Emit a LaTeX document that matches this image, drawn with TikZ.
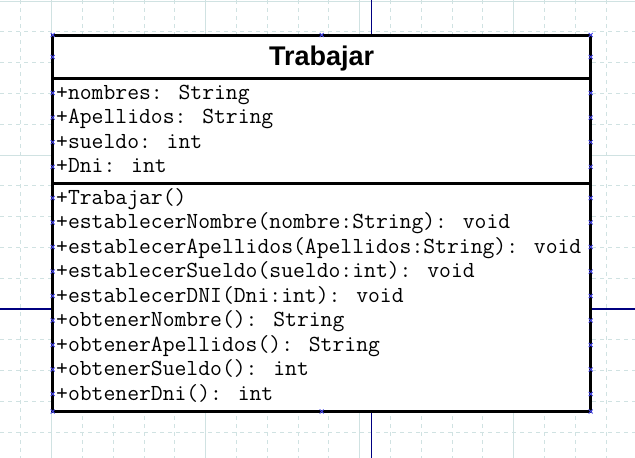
\documentclass[tikz,border=0pt]{standalone}
\usepackage{fontspec}
\setmainfont{Liberation Sans}
\usetikzlibrary{calc, positioning}

\definecolor{gridcol}{RGB}{208,226,226}
\definecolor{wirecol}{RGB}{0,0,128}
\definecolor{handlecol}{RGB}{70,70,235}

\tikzset{
  gridminor/.style={gridcol, line width=1pt, dash pattern=on 4pt off 4pt},
  gridmajor/.style={gridcol, line width=1pt},
  classline/.style={black, line width=3pt},
  wire/.style={wirecol, line width=1.2pt},
  handle/.style={handlecol, line width=0.8pt},
  member/.style={anchor=base west, inner sep=0pt, font=\ttfamily\fontsize{23}{26}\selectfont},
  classtitle/.style={anchor=base, inner sep=0pt, font=\bfseries\fontsize{27}{31}\selectfont},
}

\newcommand\handlemark[1]{%
  \draw[handle] ($(#1)+(-2,-2)$) -- ($(#1)+(2,2)$) ($(#1)+(-2,2)$) -- ($(#1)+(2,-2)$);}

\begin{document}
\begin{tikzpicture}[x=1pt, y=-1pt]
\useasboundingbox (0,0) rectangle (635,458);

% grid
\foreach \i in {0,...,19} {
  \pgfmathsetmacro\gx{20.8+30.8*\i}
  \pgfmathtruncatemacro\ismajor{mod(\i+4,5)==0}
  \ifnum\ismajor=1 \draw[gridmajor] (\gx,0) -- (\gx,458);
  \else \draw[gridminor] (\gx,0) -- (\gx,458); \fi
}
\foreach \j in {0,...,14} {
  \pgfmathsetmacro\gy{1+30.8*\j}
  \pgfmathtruncatemacro\ismajor{mod(\j,5)==0}
  \ifnum\ismajor=1 \draw[gridmajor] (0,\gy) -- (635,\gy);
  \else \draw[gridminor] (0,\gy) -- (635,\gy); \fi
}

% wires into the class
\coordinate (wiretop) at (371.5,0);
\coordinate (wirebot) at (371.5,458);
\coordinate (wireleft) at (0,309);
\coordinate (wireright) at (635,309);

\node[draw, line width=3pt, fill=white, inner sep=0pt, outer sep=0pt,
      minimum width=538pt, minimum height=376.5pt, anchor=north west] (cls) at (52.7,35) {};

\draw[wire] (wiretop) -- (wiretop |- cls.north);
\draw[wire] (wirebot) -- (wirebot |- cls.south);
\draw[wire] (wireleft) -- (wireleft -| cls.west);
\draw[wire] (wireright) -- (wireright -| cls.east);
\draw[classline] (cls.north west) rectangle (cls.south east);

% compartments
\draw[classline] (cls.west |- 0,78.3) -- (cls.east |- 0,78.3);
\draw[classline] (cls.west |- 0,183.3) -- (cls.east |- 0,183.3);

\node[classtitle] (title) at (cls.north |- 0,65) {Trabajar};

\foreach \txt [count=\k] in {{+nombres: String}, {+Apellidos: String},
    {+sueldo: int}, {+Dni: int}} {
  \node[member] (attr\k) at (56,{99+24.6*(\k-1)}) {\txt};
}
\foreach \txt [count=\k] in {{+Trabajar()},
    {+establecerNombre(nombre:String): void},
    {+establecerApellidos(Apellidos:String): void},
    {+establecerSueldo(sueldo:int): void},
    {+establecerDNI(Dni:int): void},
    {+obtenerNombre(): String},
    {+obtenerApellidos(): String},
    {+obtenerSueldo(): int},
    {+obtenerDni(): int}} {
  \node[member] (meth\k) at (56,{204.3+24.5*(\k-1)}) {\txt};
}

% selection handles
\foreach \c in {cls.north west, cls.north, cls.north east,
    cls.south west, cls.south, cls.south east} {
  \handlemark{\c}
}
\foreach \hy in {57, 93, 117.6, 142.2, 166.8,
    198, 222.5, 247, 271.5, 296, 320.5, 345, 369.5, 394} {
  \handlemark{cls.west |- 0,\hy}
  \handlemark{cls.east |- 0,\hy}
}
\end{tikzpicture}
\end{document}
